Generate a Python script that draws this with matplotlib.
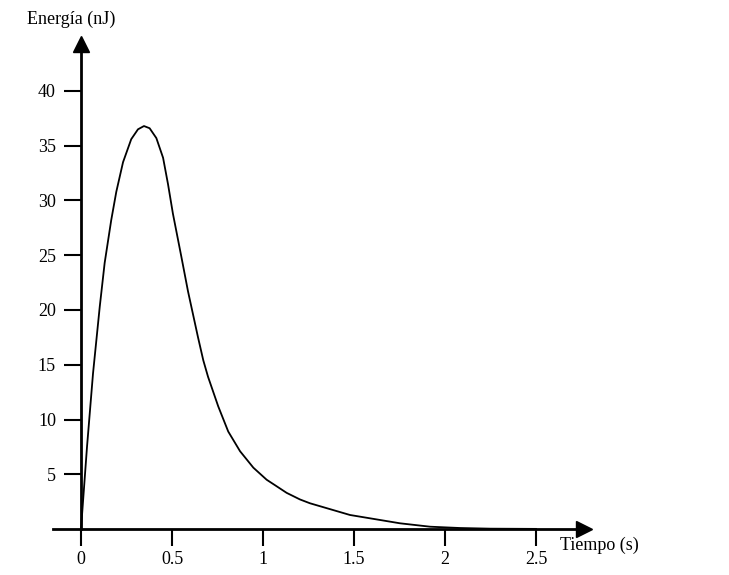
import matplotlib.pyplot as plt

# valores
tiempo = [0.0, 0.033, 0.066, 0.103, 0.130, 0.166, 0.194, 0.231, 0.276, 0.313,
          0.346, 0.377, 0.414, 0.451, 0.478, 0.505, 0.551, 0.588, 0.643, 0.672,
          0.698, 0.754, 0.809, 0.874, 0.947, 1.020, 1.066, 1.130, 1.203, 1.258,
          1.478, 1.753, 1.918, 2.082, 2.25, 2.5]
energia = [0.0, 7.5, 14.2, 20.3, 24.3, 28.2, 30.8, 33.5, 35.6, 36.5,
           36.8, 36.6, 35.7, 33.9, 31.5, 28.8, 24.9, 21.7, 17.5, 15.4,
           13.9, 11.2, 8.9, 7.1, 5.6, 4.5, 4.0, 3.3, 2.7, 2.35,
           1.28, 0.52, 0.21, 0.09, 0.03, 0.01]
xticks = [0, 0.5, 1, 1.5, 2, 2.5]
xlabels = ['0', '0.5', '1', '1.5', '2', '2.5']
yticks = [5, 10, 15, 20, 25, 30, 35, 40]

plt.rcParams['font.family'] = ['Liberation Serif', 'DejaVu Serif']

W, H = 729, 575
fig = plt.figure(figsize=(W / 100, H / 100), dpi=100)
# ejes en pixeles: izq 40, der 600, arriba 30, abajo 540
ax = fig.add_axes([40 / W, 1 - 540 / H, 560 / W, 510 / H])

x0, sx = 81, 182.0     # px de t=0, px por segundo
y0, sy = 529, 10.95    # px de E=0, px por nJ
ax.set_xlim((40 - x0) / sx, (600 - x0) / sx)
ax.set_ylim((y0 - 540) / sy, (y0 - 30) / sy)

xmin = (53 - x0) / sx
xtip = (590 - x0) / sx
ytip = (y0 - 37) / sy

ax.plot(tiempo, energia, color='black', lw=1.3, solid_joinstyle='round')

for s in ['top', 'right']:
    ax.spines[s].set_visible(False)
ax.spines['bottom'].set_position(('data', 0))
ax.spines['left'].set_position(('data', 0))
ax.spines['bottom'].set_bounds(xmin, xtip - 0.05)
ax.spines['left'].set_bounds(0, ytip - 1)
ax.spines['bottom'].set_linewidth(2)
ax.spines['left'].set_linewidth(2)

# puntas de flecha
ax.plot(xtip - 0.035, 0, marker='>', color='black', markersize=11, clip_on=False)
ax.plot(0, ytip - 0.6, marker='^', color='black', markersize=11, clip_on=False)

ax.set_xticks(xticks)
ax.set_xticklabels(xlabels)
ax.set_yticks(yticks)
ax.tick_params(axis='both', direction='out', length=12, width=1.5,
               labelsize=13, colors='black')
ax.tick_params(axis='x', pad=4)
ax.tick_params(axis='y', pad=6)

ax.text(27 / W, 1 - 19 / H, 'Energía (nJ)', transform=fig.transFigure,
        fontsize=13, va='center', ha='left')
ax.text(560 / W, 1 - 545 / H, 'Tiempo (s)', transform=fig.transFigure,
        fontsize=13, va='center', ha='left')

plt.savefig('out.png', dpi=100, facecolor='white')
